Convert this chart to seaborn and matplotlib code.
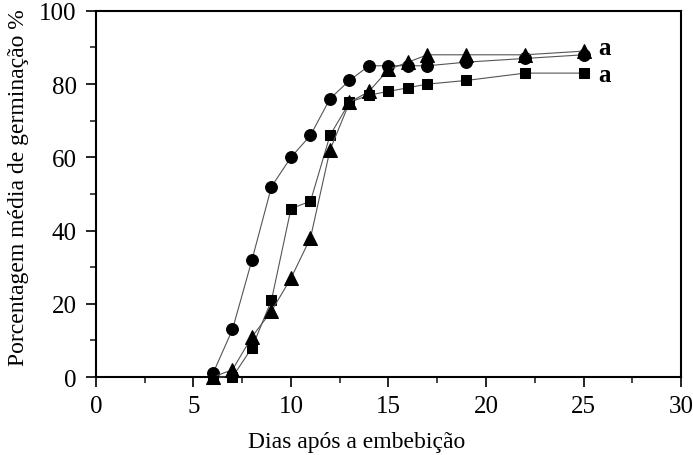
import matplotlib
matplotlib.use("Agg")
import matplotlib.pyplot as plt
import seaborn as sns
import pandas as pd
from matplotlib.ticker import MultipleLocator

days = [6, 7, 8, 9, 10, 11, 12, 13, 14, 15, 16, 17, 19, 22, 25]
circle_vals = [1, 13, 32, 52, 60, 66, 76, 81, 85, 85, 85, 85, 86, 87, 88]
square_vals = [0, 0, 8, 21, 46, 48, 66, 75, 77, 78, 79, 80, 81, 83, 83]
triangle_vals = [0, 2, 11, 18, 27, 38, 62, 75, 78, 84, 86, 88, 88, 88, 89]
series_names = ["circle", "square", "triangle"]
letters = ["a", "a"]
letter_y = [90, 82.5]

sns.set_theme(style="white")
plt.rcParams["font.family"] = ["Liberation Serif", "DejaVu Serif"]

df = pd.concat([
    pd.DataFrame({"dias": days, "pct": v, "serie": n})
    for n, v in zip(series_names, [circle_vals, square_vals, triangle_vals])
])

fig = plt.figure(figsize=(6.93, 4.56), dpi=100)
ax = fig.add_axes([0.1385, 0.171, 0.8442, 0.803])

sns.lineplot(data=df, x="dias", y="pct", hue="serie", style="serie",
             markers={"circle": "o", "square": "s", "triangle": "^"},
             dashes=False, palette={"circle": "#555555", "square": "#555555", "triangle": "#555555"},
             linewidth=0.8, markersize=8.5, markerfacecolor="black",
             markeredgecolor="black", legend=False, ax=ax, clip_on=False)

for line, ms in zip(ax.lines, [8.5, 7.5, 9.5]):
    line.set_markersize(ms)
    line.set_markerfacecolor("black")
    line.set_markeredgecolor("black")
    line.set_zorder(3)

ax.set_xlim(0, 30)
ax.set_ylim(0, 100)
ax.xaxis.set_major_locator(MultipleLocator(5))
ax.xaxis.set_minor_locator(MultipleLocator(2.5))
ax.yaxis.set_major_locator(MultipleLocator(20))
ax.yaxis.set_minor_locator(MultipleLocator(10))
ax.tick_params(which="major", direction="out", length=7, width=1.2, labelsize=18,
               colors="black", bottom=True, left=True, top=False, right=False)
ax.tick_params(axis="x", which="major", pad=6)
ax.tick_params(axis="y", which="major", pad=7)
ax.tick_params(which="minor", direction="out", length=4, width=1.2,
               bottom=True, left=True, top=False, right=False)
for s in ax.spines.values():
    s.set_visible(True)
    s.set_color("black")
    s.set_linewidth(1.5)

ax.set_xlabel("Dias após a embebição", fontsize=17, color="black")
ax.set_ylabel("Porcentagem média de germinação %", fontsize=17, color="black")
ax.xaxis.set_label_coords(0.445, -0.148)
ax.yaxis.set_label_coords(-0.115, 0.52)

for t, yv in zip(letters, letter_y):
    ax.text(25.75, yv, t, fontsize=18, fontweight="bold", ha="left", va="center",
            color="black")

fig.savefig("out.png", dpi=100, facecolor="white")
